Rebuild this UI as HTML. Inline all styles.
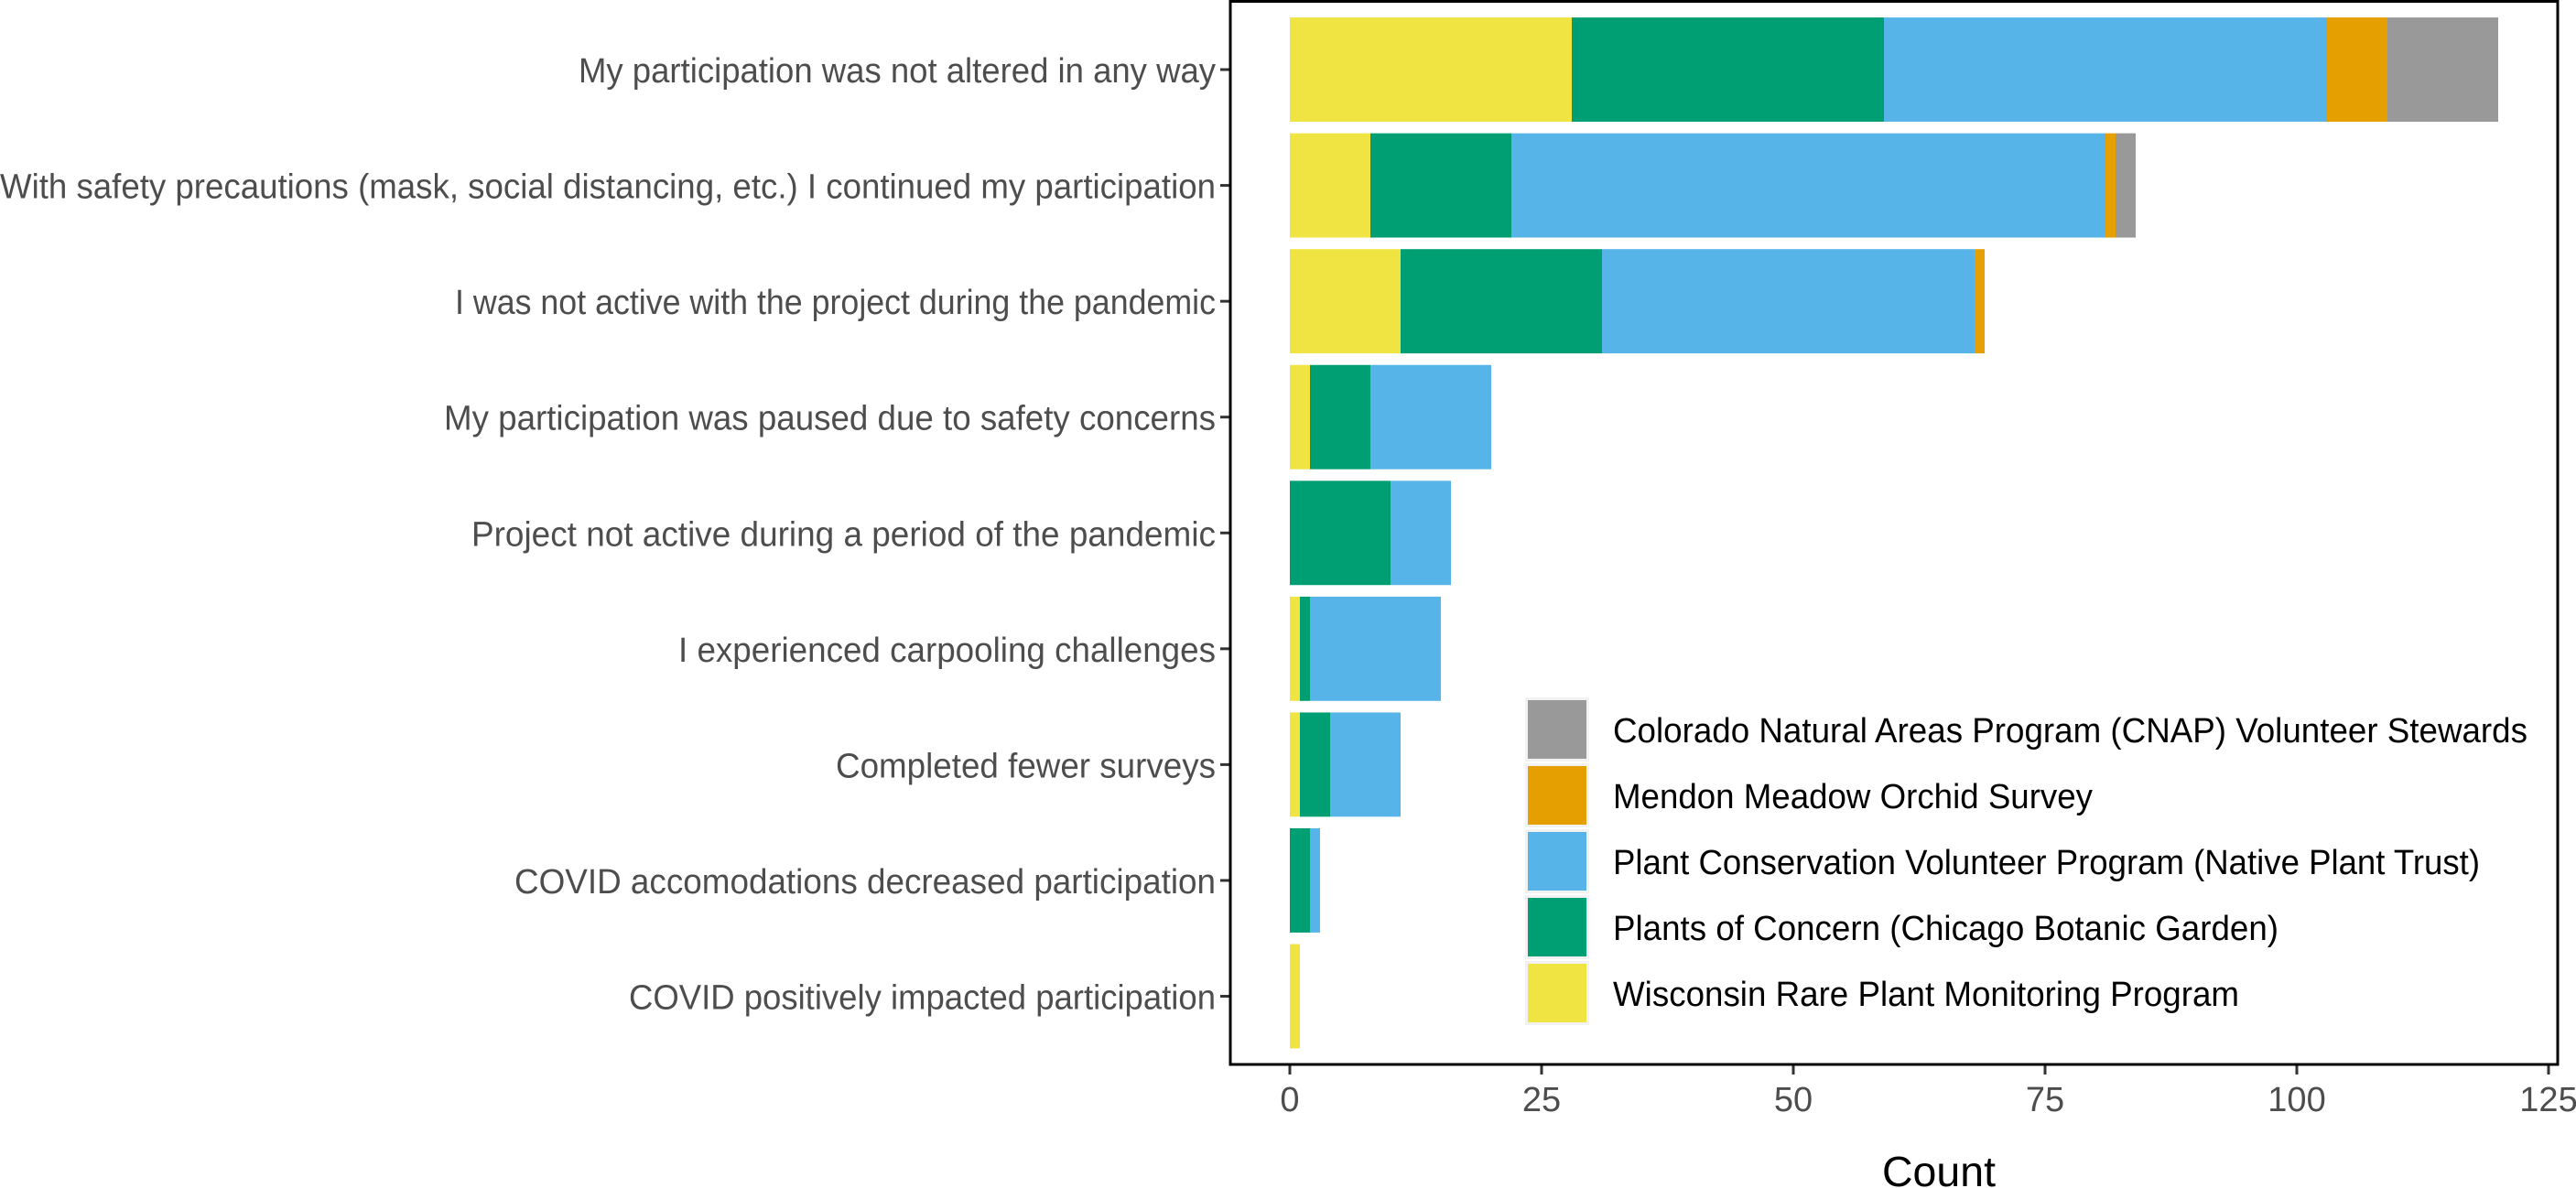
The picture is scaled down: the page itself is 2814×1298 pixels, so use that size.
<!DOCTYPE html>
<html><head><meta charset="utf-8"><style>
html,body{margin:0;padding:0;background:#fff;}
svg{display:block;font-family:"Liberation Sans",Arial,sans-serif;}
</style></head><body>
<svg id="chart" width="2814" height="1298" viewBox="0 0 2814 1298" xmlns="http://www.w3.org/2000/svg">
<rect x="0" y="0" width="2814" height="1298" fill="#fff"/>
<g id="bars"></g>
<g id="yaxis"></g>
<g id="xaxis"></g>
<rect x="1344" y="1.5" width="1450" height="1161.5" fill="none" stroke="#000" stroke-width="3"/>
<text x="2118" y="1296" font-size="46" text-anchor="middle" fill="#000" textLength="124" lengthAdjust="spacingAndGlyphs">Count</text>
<g id="legend"></g>
</svg>
<script>
const categories = ["My participation was not altered in any way","With safety precautions (mask, social distancing, etc.) I continued my participation","I was not active with the project during the pandemic","My participation was paused due to safety concerns","Project not active during a period of the pandemic","I experienced carpooling challenges","Completed fewer surveys","COVID accomodations decreased participation","COVID positively impacted participation"];
const labelWidths = [696,1328,831,843,813,587,415,766,641];
const seriesNames = ["Wisconsin Rare Plant Monitoring Program","Plants of Concern (Chicago Botanic Garden)","Plant Conservation Volunteer Program (Native Plant Trust)","Mendon Meadow Orchid Survey","Colorado Natural Areas Program (CNAP) Volunteer Stewards"];
const legendWidths = [684,727,947,524,999];
const seriesColors = ["#f0e442","#009e73","#56b4e9","#e69f00","#999999"];
const wisconsin = [28,8,11,2,0,1,1,0,1];
const plantsOfConcern = [31,14,20,6,10,1,3,2,0];
const pcvp = [44,59,37,12,6,13,7,1,0];
const mendon = [6,1,1,0,0,0,0,0,0];
const cnap = [11,2,0,0,0,0,0,0,0];
const xTicks = [0,25,50,75,100,125];
const legendOrder = [4,3,2,1,0];

const NS="http://www.w3.org/2000/svg";
const x0=1409, pxPerUnit=11;
const xScale=v=>x0+v*pxPerUnit;
const yTop=0.1, step=126.56;
const yCenter=i=>yTop+step*(0.6+i);
const bandH=step*0.9;
const series=[wisconsin,plantsOfConcern,pcvp,mendon,cnap];
function mk(tag,attrs,parent){const e=document.createElementNS(NS,tag);for(const k in attrs)e.setAttribute(k,attrs[k]);parent.appendChild(e);return e;}
const gb=document.getElementById('bars');
categories.forEach((c,i)=>{
  let cum=0;
  series.forEach((s,j)=>{
    const v=s[i]; if(v<=0)return;
    const r=mk('rect',{x:xScale(cum),y:yCenter(i)-bandH/2,width:xScale(cum+v)-xScale(cum),height:bandH,fill:seriesColors[j]},gb);
    
    
    cum+=v;
  });
});
const gy=document.getElementById('yaxis');
categories.forEach((c,i)=>{
  const y=yCenter(i);
  const t=mk('line',{x1:1333,x2:1344,y1:y,y2:y,stroke:'#333',"stroke-width":3},gy);
  
  
  const tx=mk('text',{x:1328,y:y+14,"font-size":38,"text-anchor":"end",fill:'#4d4d4d',textLength:labelWidths[i],lengthAdjust:'spacingAndGlyphs'},gy);
  tx.textContent=c;
  
  
});
const gx=document.getElementById('xaxis');
xTicks.forEach(v=>{
  const x=xScale(v);
  const t=mk('line',{x1:x,x2:x,y1:1163,y2:1174,stroke:'#333',"stroke-width":3},gx);
  
  
  const tx=mk('text',{x:x,y:1214,"font-size":38,"text-anchor":"middle",fill:'#4d4d4d'},gx);
  tx.textContent=v;
  
  
});
const gl=document.getElementById('legend');
legendOrder.forEach((j,k)=>{
  const y=763+k*72;
  const bg=mk('rect',{x:1666,y:y-1,width:70,height:70,fill:'#f2f2f2'},gl);
  
  
  const r=mk('rect',{x:1669,y:y+2,width:64,height:64,fill:seriesColors[j]},gl);
  
  
  const tx=mk('text',{x:1762,y:y+48,"font-size":38,fill:'#000',textLength:legendWidths[j],lengthAdjust:'spacingAndGlyphs'},gl);
  tx.textContent=seriesNames[j];
  
  
});
</script>
</body></html>
